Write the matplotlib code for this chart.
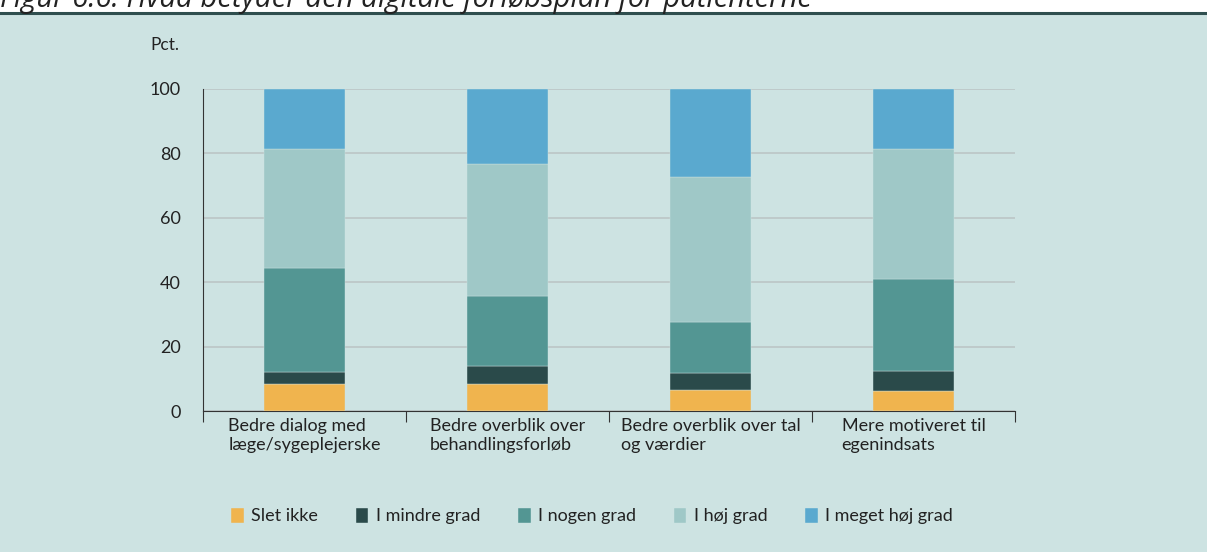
import matplotlib.pyplot as plt
from matplotlib.patches import Rectangle
import numpy as np

plt.rcParams['font.family'] = ['Lato', 'DejaVu Sans']

categories = ['Bedre dialog med\nlæge/sygeplejerske', 'Bedre overblik over\nbehandlingsforløb',
              'Bedre overblik over tal\nog værdier', 'Mere motiveret til\negenindsats']
series = ['Slet ikke', 'I mindre grad', 'I nogen grad', 'I høj grad', 'I meget høj grad']
slet_ikke = [8.5, 8.5, 6.4, 6.1]
mindre = [3.5, 5.6, 5.3, 6.3]
nogen = [32.3, 21.5, 15.9, 28.7]
hoj = [37.1, 41.0, 45.1, 40.3]
meget_hoj = [18.6, 23.4, 27.3, 18.6]
colors = ['#f0b44e', '#2a4a4a', '#539693', '#9fc8c7', '#5aa9cf']

bg = '#cde3e2'
fig = plt.figure(figsize=(12.07, 5.52), dpi=100)
fig.patch.set_facecolor('white')
# background panel below the header line
fig.add_artist(Rectangle((0, 0), 1, 1 - 15 / 552, transform=fig.transFigure,
                         facecolor=bg, edgecolor='none', zorder=0))
fig.add_artist(plt.Line2D([0, 1], [1 - 13 / 552] * 2, transform=fig.transFigure,
                          color='#2f4f4f', linewidth=2.2))
# title is clipped at the top edge, as in the source image
fig.text(0.0, 1 - 7 / 552, 'Figur 6.6: Hvad betyder den digitale forløbsplan for patienterne',
         fontsize=21, style='italic', color='#222222', va='baseline', ha='left',
         family=['Open Sans', 'DejaVu Sans'])

ax = fig.add_axes([203 / 1207, 1 - 411 / 552, (1015 - 203) / 1207, (411 - 89) / 552])
ax.set_facecolor(bg)

x = np.arange(len(categories))
bottom = np.zeros(len(categories))
for name, vals, c in zip(series, [slet_ikke, mindre, nogen, hoj, meget_hoj], colors):
    ax.bar(x, vals, 0.4, bottom=bottom, color=c, label=name, zorder=3,
           edgecolor=bg, linewidth=0.3)
    bottom += np.array(vals)

ax.set_xlim(-0.5, len(categories) - 0.5)
ax.set_ylim(0, 100)
ax.set_yticks([0, 20, 40, 60, 80, 100])
ax.yaxis.grid(True, color='#bcc6c6', linewidth=1.2, zorder=0)
ax.set_axisbelow(True)
for s in ['top', 'right']:
    ax.spines[s].set_visible(False)
ax.spines['left'].set_color('#333333')
ax.spines['bottom'].set_color('#333333')
ax.tick_params(axis='y', length=0, labelsize=13, colors='#222222', pad=16)
ax.set_xticks(np.arange(len(categories) + 1) - 0.5, minor=False)
ax.set_xticklabels([])
ax.tick_params(axis='x', which='major', direction='out', length=8, color='#333333')
ax.set_xticks(x, minor=True)
ax.set_xticklabels(categories, minor=True, fontsize=13, color='#222222',
                   multialignment='left')
ax.tick_params(axis='x', which='minor', length=0, pad=5)

fig.text(150 / 1207, 1 - 45 / 552, 'Pct.', fontsize=12.5, color='#222222', va='center')

leg = fig.legend(loc='center', bbox_to_anchor=(592 / 1207, 1 - 516 / 552), ncol=5,
                 frameon=False, fontsize=13, handlelength=0.7, handleheight=0.9,
                 handletextpad=0.4, columnspacing=2.1)
for t in leg.get_texts():
    t.set_color('#222222')

fig.savefig('out.png', dpi=100, facecolor=fig.get_facecolor())
